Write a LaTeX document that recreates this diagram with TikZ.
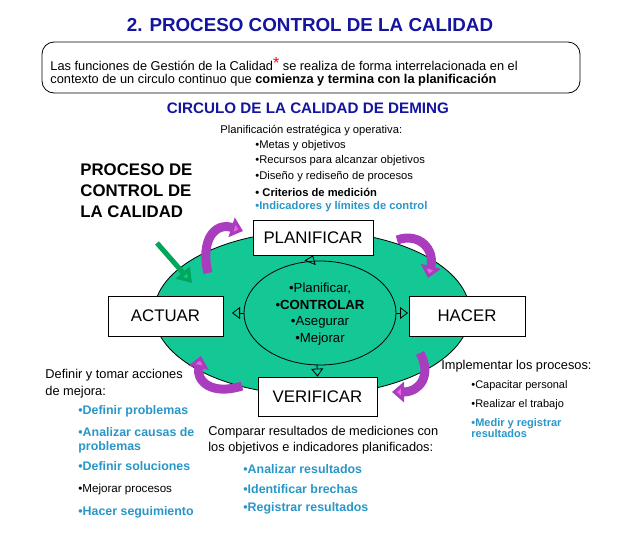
\documentclass[tikz,border=0pt]{standalone}
\usepackage{fontspec}
\setmainfont{Liberation Sans}
\usetikzlibrary{arrows.meta}
\definecolor{navy}{RGB}{20,20,160}
\definecolor{lblue}{RGB}{40,150,200}
\definecolor{teal1}{RGB}{20,200,150}
\definecolor{mag}{RGB}{230,100,230}
\definecolor{dmag}{RGB}{170,60,190}
\begin{document}
\begin{tikzpicture}[x=0.5pt,y=-0.5pt,
 txt/.style={anchor=west,inner sep=0,font=\fontsize{6.4}{7}\selectfont},
 btxt/.style={txt,font=\fontsize{6.2}{7}\selectfont\bfseries,text=lblue},
 box/.style={draw,fill=white,inner sep=0,font=\fontsize{8.4}{9}\selectfont},
 carrow/.style={draw=dmag,line width=4.5pt,-{Triangle[length=6pt,width=10pt,fill=mag]}},
 hol/.style={draw,fill=teal1,-{Triangle[open,length=4pt,width=6pt]},line width=0.4pt}]
\useasboundingbox (0,0) rectangle (638,532);
\node[font=\fontsize{9.4}{11}\selectfont\bfseries,text=navy] (title) at (310,25) {2. PROCESO CONTROL DE LA CALIDAD};
\draw[rounded corners=6pt] (42,42) rectangle (580,93);
\node[txt] (l1) at (50,64) {Las funciones de Gestión de la Calidad\textcolor{red}{\raisebox{0.4ex}{\fontsize{8}{8}\selectfont *}} se realiza de forma interrelacionada en el};
\node[txt] (l2) at (50,80) {contexto de un circulo continuo que \textbf{comienza y termina con la planificación}};
\node[font=\fontsize{7.6}{9}\selectfont\bfseries,text=navy] (circ) at (308,108) {CIRCULO DE LA CALIDAD DE DEMING};
\node[txt,font=\fontsize{5.6}{6}\selectfont] (plh) at (220,131) {Planificación estratégica y operativa:};
\node[txt,font=\fontsize{5.6}{6}\selectfont] (p1) at (255,146) {\textbullet Metas y objetivos};
\node[txt,font=\fontsize{5.6}{6}\selectfont] (p2) at (255,161) {\textbullet Recursos para alcanzar objetivos};
\node[txt,font=\fontsize{5.6}{6}\selectfont] (p3) at (255,177) {\textbullet Diseño y rediseño de procesos};
\node[txt,font=\fontsize{5.6}{6}\selectfont\bfseries] (p4) at (255,192) {\textbullet\ Criterios de medición};
\node[txt,font=\fontsize{5.6}{6}\selectfont\bfseries,text=lblue] (p5) at (255,207) {\textbullet Indicadores y límites de control};
\node[txt,font=\fontsize{8.4}{10.5}\selectfont\bfseries,align=left] (pc) at (80,191) {PROCESO DE\\CONTROL DE\\LA CALIDAD};
\draw[fill=teal1] (312,313) ellipse [x radius=158,y radius=82];
\draw (320,313) ellipse [x radius=76,y radius=52];
\node[box,minimum width=60pt,minimum height=17.5pt] (plan) at (313,237.5) {PLANIFICAR};
\node[box,minimum width=57.5pt,minimum height=20pt] (act) at (165.5,316) {ACTUAR};
\node[box,minimum width=58pt,minimum height=20pt] (hac) at (467,316) {HACER};
\node[box,minimum width=59.5pt,minimum height=19.5pt] (ver) at (317.5,396.5) {VERIFICAR};
\node[align=center,inner sep=0,font=\fontsize{6.6}{8.3}\selectfont] (inner) at (320,314) {\textbullet Planificar,\\\textbullet\textbf{CONTROLAR}\\\textbullet Asegurar\\\textbullet Mejorar};
\coordinate (ct) at (310,263); \coordinate (cb) at (317,364);
\coordinate (cl) at (244,313); \coordinate (cr) at (396,313);
\draw[hol] (ct) -- (plan.south);
\draw[hol] (cb) -- (ver.north);
\draw[hol] (cl) -- ++(-12,0);
\draw[hol] (cr) -- ++(12,0);
\coordinate (a1s) at (208,273); \coordinate (a1e) at (243,231);
\draw[carrow] (a1s) .. controls (200,240) and (215,222) .. (a1e);
\coordinate (a2s) at (397,240); \coordinate (a2e) at (428,278);
\draw[carrow] (a2s) .. controls (420,232) and (435,250) .. (a2e);
\coordinate (a3s) at (420,353); \coordinate (a3e) at (392,392);
\draw[carrow] (a3s) .. controls (432,375) and (420,392) .. (a3e);
\coordinate (a4s) at (242,386); \coordinate (a4e) at (201,356);
\draw[carrow] (a4s) .. controls (210,396) and (196,380) .. (a4e);
\coordinate (g1) at (157,243); \coordinate (g2) at (192,283);
\draw[draw=teal!70!green,line width=2.5pt,-{Triangle[open,length=7pt,width=9pt]}] (g1) -- (g2);
\node[txt] (d1) at (45,375) {Definir y tomar acciones};
\node[txt] (d2) at (45,392) {de mejora:};
\node[btxt] (d3) at (78,411) {\textbullet Definir problemas};
\node[btxt] (d4) at (78,432) {\textbullet Analizar causas de};
\node[btxt] (d5) at (78,447) {problemas};
\node[btxt] (d6) at (78,466) {\textbullet Definir soluciones};
\node[txt,font=\fontsize{5.8}{7}\selectfont] (d7) at (78,489) {\textbullet Mejorar procesos};
\node[btxt] (d8) at (78,512) {\textbullet Hacer seguimiento};
\node[txt] (c1) at (208,432) {Comparar resultados de mediciones con};
\node[txt] (c2) at (208,448) {los objetivos e indicadores planificados:};
\node[btxt] (c3) at (243,469) {\textbullet Analizar resultados};
\node[btxt] (c4) at (243,489) {\textbullet Identificar brechas};
\node[btxt] (c5) at (243,508) {\textbullet Registrar resultados};
\node[txt] (i1) at (441,366) {Implementar los procesos:};
\node[txt,font=\fontsize{5.5}{6}\selectfont] (i2) at (471,386) {\textbullet Capacitar personal};
\node[txt,font=\fontsize{5.5}{6}\selectfont] (i3) at (471,405) {\textbullet Realizar el trabajo};
\node[btxt,font=\fontsize{5.5}{5.5}\selectfont\bfseries,align=left] (i4) at (471,428) {\textbullet Medir y registrar\\resultados};
\end{tikzpicture}
\end{document}
